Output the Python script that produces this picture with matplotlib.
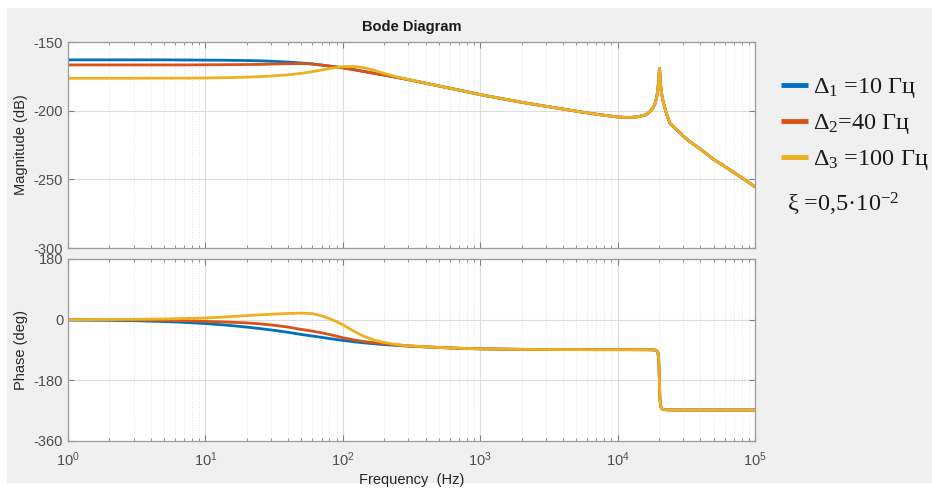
import numpy as np
import matplotlib
matplotlib.use("Agg")
import matplotlib.pyplot as plt
from matplotlib.patches import Rectangle
from matplotlib.ticker import LogLocator, NullFormatter, FixedLocator

plt.rcParams['font.family'] = ['Liberation Sans', 'DejaVu Sans']
plt.rcParams['mathtext.fontset'] = 'custom'
plt.rcParams['mathtext.rm'] = 'Liberation Serif'
plt.rcParams['mathtext.it'] = 'Liberation Serif:italic'
plt.rcParams['axes.unicode_minus'] = False

# ---- data -------------------------------------------------------------
# low-frequency part, where the three cases differ (Hz)
freq_low = [1, 2, 3, 5, 7, 10, 14, 20, 25, 30, 40, 50, 60, 70, 80, 90,
            100, 120, 140, 170, 200, 250, 300, 400]

mag_d1_low = [-163.0, -163.0, -163.0, -163.0, -163.1, -163.2, -163.3, -163.5,
              -163.7, -164.0, -164.6, -165.3, -166.0, -166.8, -167.5, -168.1,
              -168.7, -170.0, -171.3, -172.8, -174.1, -175.9, -177.4, -180.0]
mag_d2_low = [-166.7, -166.7, -166.7, -166.7, -166.7, -166.6, -166.5, -166.4,
              -166.3, -166.1, -165.8, -165.7, -166.0, -166.8, -167.6, -168.3,
              -168.9, -170.2, -171.4, -172.9, -174.1, -175.9, -177.4, -180.0]
mag_d3_low = [-176.4, -176.4, -176.4, -176.3, -176.3, -176.2, -176.0, -175.6,
              -175.2, -174.8, -173.9, -172.8, -171.6, -170.4, -169.3, -168.5,
              -168.0, -167.8, -168.6, -170.6, -172.9, -175.5, -177.3, -180.0]

ph_d1_low = [-1, -2, -3, -5.5, -8, -11.5, -16, -22, -26.5, -30.5, -37.5, -44,
             -48.5, -52.5, -56, -59, -61.5, -65.5, -68.5, -71.5, -74, -76.5,
             -78.5, -81]
ph_d2_low = [0, -0.5, -1, -2, -3, -5, -7, -9.5, -12.5, -15.5, -22, -29,
             -34, -39, -44, -49, -53.5, -60, -64.5, -68.5, -71.5, -75,
             -77.5, -80.5]
ph_d3_low = [0, 0.5, 1, 2, 3.5, 5, 8, 12, 14.5, 16, 18.5, 19.5,
             18, 11.5, 3, -6, -15, -34, -48, -61, -67.5, -74.5,
             -77.5, -80.5]

# common high-frequency part (identical for all three cases)
freq_high = [500, 700, 1000, 1500, 2000, 3000, 4000, 5000, 7000, 10000,
             12000, 14000, 16000, 17000, 18000, 18700, 19200, 19600, 19900,
             20100, 20200, 20300, 20500, 20800, 21200, 22000, 23000, 24000,
             26000, 28000, 30000, 33000, 40000, 50000, 58000, 70000, 85000,
             100000]
mag_high = [-182.0, -185.0, -188.3, -191.6, -193.9, -196.8, -198.8, -200.4,
            -202.6, -204.6, -205.0, -204.5, -203.0, -201.2, -198.3, -195.0,
            -190.8, -185.5, -178.0, -171.0, -169.2, -172.0, -180.0, -186.0,
            -191.0, -197.5, -204.0, -209.0, -212.5, -215.5, -218.5, -222.0,
            -228.0, -235.5, -239.5, -245.0, -250.5, -255.5]
ph_high = [-82.5, -85, -86.5, -87.5, -88, -88.5, -88.7, -88.8, -89, -89,
           -89, -89.1, -89.2, -89.3, -89.5, -90, -91.5, -96, -115,
           -165, -200, -230, -252, -262, -265.5, -267, -267.5, -267.8,
           -268, -268, -268, -268, -268, -268, -268, -268, -268, -268]

labels = [r'$\Delta_1$ =10 Гц', r'$\Delta_2$=40 Гц', r'$\Delta_3$ =100 Гц']
colors = ['#0072BD', '#D95319', '#EDB120']
mags_low = [mag_d1_low, mag_d2_low, mag_d3_low]
phs_low = [ph_d1_low, ph_d2_low, ph_d3_low]

# ---- figure -----------------------------------------------------------
W, H = 932, 488
fig = plt.figure(figsize=(W / 100, H / 100), dpi=100, facecolor='white')
fig.patches.append(Rectangle((7 / W, 5 / H), 1 - 7 / W, 1 - 13 / H,
                             transform=fig.transFigure, facecolor='#f0f0f0',
                             edgecolor='none', zorder=-10))

ax_m = fig.add_axes([68 / W, 1 - 248 / H, 687 / W, 206 / H])
ax_p = fig.add_axes([68 / W, 1 - 441 / H, 687 / W, 182 / H])

freq = np.array(freq_low + freq_high, dtype=float)
for lab, col, ml, pl in zip(labels, colors, mags_low, phs_low):
    ax_m.plot(freq, ml + mag_high, color=col, lw=2.0, label=lab,
              solid_capstyle='butt')
    ax_p.plot(freq, pl + ph_high, color=col, lw=2.0, solid_capstyle='butt')

tick_col = '#4d4d4d'
for ax in (ax_m, ax_p):
    ax.set_xscale('log')
    ax.set_xlim(1, 1e5)
    ax.set_facecolor('white')
    ax.xaxis.set_major_locator(LogLocator(base=10, numticks=10))
    ax.xaxis.set_minor_locator(LogLocator(base=10, subs=np.arange(2, 10),
                                          numticks=20))
    ax.xaxis.set_minor_formatter(NullFormatter())
    ax.grid(True, which='major', color='#dcdcdc', lw=0.8, ls='-')
    ax.grid(True, which='minor', axis='x', color='#e2e2e2', lw=0.7, ls=':')
    ax.tick_params(which='both', direction='in', top=True, right=True,
                   colors='#808080', labelcolor=tick_col, labelsize=10.5)
    ax.tick_params(which='major', length=4)
    ax.tick_params(which='minor', length=2.5)
    for s in ax.spines.values():
        s.set_color('#9a9a9a')
        s.set_linewidth(0.9)
    ax.set_axisbelow(True)

ax_m.set_ylim(-300, -150)
ax_m.yaxis.set_major_locator(FixedLocator([-300, -250, -200, -150]))
ax_m.tick_params(labelbottom=False)
ax_m.set_ylabel('Magnitude (dB)', fontsize=10.5, color='#262626', labelpad=4)
ax_m.set_title('Bode Diagram', fontsize=10.5, fontweight='bold',
               color='#1a1a1a', pad=8)

ax_p.set_ylim(-360, 180)
ax_p.yaxis.set_major_locator(FixedLocator([-360, -180, 0, 180]))
ax_p.tick_params(axis='x', which='major', pad=7)
ax_p.set_ylabel('Phase (deg)', fontsize=10.5, color='#262626', labelpad=4)
ax_p.set_xlabel('Frequency  (Hz)', fontsize=10.5, color='#262626', labelpad=3)

leg = fig.legend(loc='upper left', bbox_to_anchor=(781 / W, 1 - 76 / H),
                 frameon=False, handlelength=1.1, handletextpad=0.2,
                 labelspacing=0.5, borderaxespad=0, borderpad=0,
                 prop={'family': 'Liberation Serif', 'size': 17.5})
for line in leg.get_lines():
    line.set_linewidth(3.5)
for t in leg.get_texts():
    t.set_color('#1a1a1a')

fig.text(787 / W, 1 - 204 / H, 'ξ =0,5·10$^{-2}$', fontsize=17.5,
         family=['Liberation Serif', 'DejaVu Serif'], va='center',
         color='#1a1a1a')

fig.savefig('out.png', dpi=100, facecolor=fig.get_facecolor())
